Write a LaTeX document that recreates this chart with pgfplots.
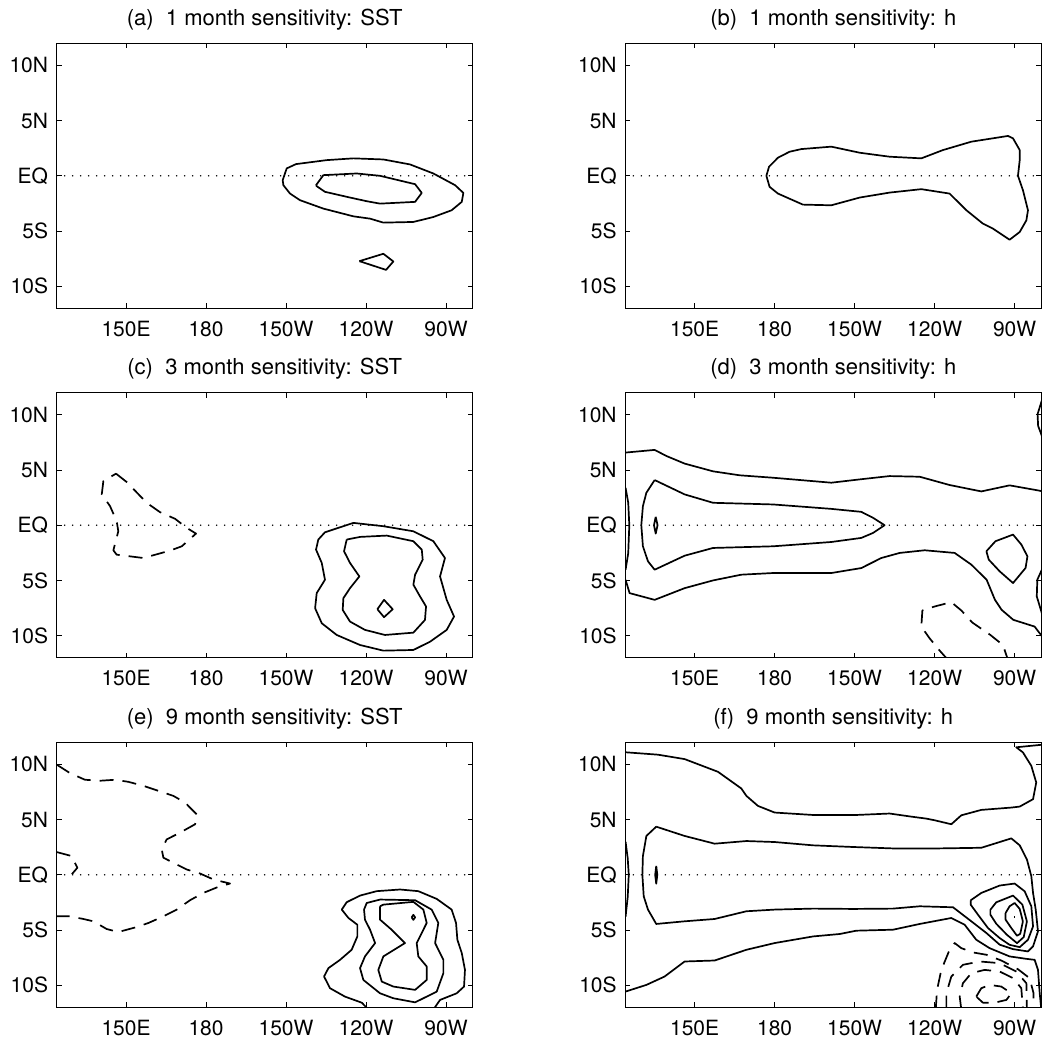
\documentclass[border=0pt]{standalone}
\usepackage{fontspec}
\setmainfont{TeX Gyre Heros}
\usepackage{pgfplots}
\pgfplotsset{compat=1.18}
\pgfplotsset{
  mapax/.style={
    scale only axis, width=208pt, height=132.5pt,
    xmin=124, xmax=280, ymin=-12, ymax=12,
    xtick={150,180,210,240,270}, xticklabels={150E,180,150W,120W,90W},
    ytick={-10,-5,0,5,10}, yticklabels={10S,5S,EQ,5N,10N},
    tick align=inside, tick pos=both, ticklabel pos=left,
    major tick length=2.5pt,
    every tick/.style={black, line width=0.5pt},
    axis line style={line width=0.7pt},
    tick label style={font=\fontsize{10.5}{12}\selectfont},
    xticklabel style={anchor=base, yshift=-13.85pt},
    yticklabel style={anchor=east, xshift=-0.8pt},
    title style={font=\fontsize{11}{13}\selectfont, anchor=base, at={(0.5,1)}, yshift=3pt},
    clip=true,
  },
  cont/.style={black, line width=0.85pt, line join=round, mark=none},
  dcont/.style={cont, dash pattern=on 7pt off 4.5pt},
  eqline/.style={black, line width=0.8pt, line cap=round, dash pattern=on 0pt off 4pt, mark=none},
}
\begin{document}
\begin{tikzpicture}
% ---------------- (a)
\begin{axis}[mapax, at={(28.35pt,-21.65pt)}, anchor=north west, title={(a)\ \ 1 month sensitivity: SST}]
\addplot[eqline] coordinates {(124,0) (280,0)};
\addplot[cont] coordinates {(208.75,-0.39) (210.25,0.67) (213.75,1.06) (225.25,1.42) (235.25,1.58) (246.5,1.48) (256.5,1.03) (265.25,0.21) (273.4,-0.85) (276.5,-1.55) (275.9,-2.36) (272.1,-3.12) (265.25,-3.73) (257.75,-4.18) (246.5,-4.24) (241.5,-3.88) (235.25,-3.67) (224,-2.97) (215.25,-2.21) (211.5,-1.61) (209,-0.85) (208.75,-0.39)};
\addplot[cont] coordinates {(221.25,-0.85) (224,0.06) (236.5,0.21) (245.25,0) (258.4,-0.76) (260.9,-1.55) (258.4,-2.36) (245.25,-2.52) (240.25,-2.30) (234,-1.97) (224.6,-1.45) (221.5,-0.94) (221.25,-0.85)};
\addplot[cont] coordinates {(237.5,-7.73) (246.5,-7.06) (250.25,-7.76) (247.5,-8.52) (237.5,-7.73)};
\end{axis}
% ---------------- (b)
\begin{axis}[mapax, at={(312.65pt,-21.65pt)}, anchor=north west, title={(b)\ \ 1 month sensitivity: h}]
\addplot[eqline] coordinates {(124,0) (280,0)};
\addplot[cont] coordinates {(176.9,0) (177.9,0.82) (181.25,1.64) (185.6,2.18) (190,2.42) (201.25,2.64) (211.9,2.09) (223.1,1.73) (235,1.58) (243.1,2.33) (253.75,3.09) (267.5,3.61) (269.4,3.39) (271.9,2.33) (271.9,1.42) (271.25,0) (273.1,-1.30) (275,-3.12) (274.4,-4.03) (271.9,-5.09) (268.1,-5.79) (261.9,-4.79) (258.1,-4.33) (251.9,-3.12) (245.6,-1.61) (235,-1.21) (223.1,-1.52) (211.9,-1.97) (201.25,-2.67) (190.6,-2.61) (181.25,-1.61) (178.1,-1.0) (176.9,0)};
\end{axis}
% ---------------- (c)
\begin{axis}[mapax, at={(28.35pt,-196.35pt)}, anchor=north west, title={(c)\ \ 3 month sensitivity: SST}]
\addplot[eqline] coordinates {(124,0) (280,0)};
\addplot[dcont] coordinates {(146.25,4.67) (150.25,3.91) (157.75,2.03) (162.75,1.18) (168.4,0.58) (172.75,-0.24) (176.25,-0.76) (170.9,-1.91) (166.5,-2.30) (156.5,-2.97) (146.5,-2.67) (145.25,-2.27) (147.1,-0.55) (146.5,0.36) (144,1.73) (140.9,2.79) (141.5,4.0) (146.25,4.67)};
\addplot[cont] coordinates {(224.6,-0.64) (235.25,0.21) (246.5,-0.09) (257.75,-0.55) (265.25,-1.45) (269.6,-2.97) (267.75,-4.64) (270.25,-6.76) (273,-8.27) (270.25,-9.48) (264,-10.55) (257.75,-11.30) (246.5,-11.36) (237.75,-10.85) (229,-9.94) (223.4,-8.88) (220.9,-7.52) (221.5,-6.15) (224.6,-4.94) (223.4,-3.42) (221.25,-2.21) (222.1,-1.30) (224.6,-0.64)};
\addplot[cont] coordinates {(232.75,-1.30) (237.75,-1.06) (247.75,-0.94) (257.75,-1.45) (260.9,-2.21) (261.25,-3.12) (258.4,-4.48) (257.75,-5.39) (260.25,-6.45) (262.5,-7.36) (262.1,-8.58) (257.75,-9.73) (247.1,-9.94) (239.6,-9.48) (234,-8.73) (231.25,-7.67) (231.5,-6.61) (234,-5.70) (237.5,-4.64) (234,-3.42) (231.75,-2.36) (232.75,-1.30)};
\addplot[cont] coordinates {(244.25,-7.61) (246.75,-6.76) (250,-7.61) (246.75,-8.33) (244.25,-7.61)};
\end{axis}
% ---------------- (d)
\begin{axis}[mapax, at={(312.65pt,-196.35pt)}, anchor=north west, title={(d)\ \ 3 month sensitivity: h}]
\addplot[eqline] coordinates {(124,0) (280,0)};
\addplot[cont] coordinates {(124.1,6.58) (135,6.82) (139.4,6.27) (146.25,5.58) (156.9,4.88) (166.9,4.52) (179.4,4.30) (201.25,3.85) (211.9,4.15) (223.1,4.45) (234.4,4.39) (245.6,3.64) (257.5,3.06) (268.1,3.61) (278.1,3.18) (281,3.05)};
\addplot[cont] coordinates {(124.1,-4.94) (125.6,-6.15) (135,-6.76) (146.25,-5.70) (156.9,-5.0) (167.5,-4.48) (179.4,-4.33) (201.25,-4.33) (212.5,-3.88) (220,-2.97) (226.9,-2.51) (236.25,-2.27) (247.5,-2.51) (253.75,-3.57) (259.5,-4.94) (262.6,-6.75) (265.1,-7.66) (269.5,-8.57) (277.5,-9.18) (281,-10.3)};
\addplot[cont] coordinates {(124.1,3.39) (125.1,2.03) (125.5,0) (125.1,-2.52) (124.1,-4.03)};
\addplot[cont] coordinates {(135,4.09) (146.25,2.79) (156.9,2.03) (179.4,1.88) (201.25,1.48) (212.5,1.21) (216.9,0.67) (221.25,0) (216.9,-0.70) (212.5,-1.15) (201.25,-1.52) (179.4,-1.91) (156.9,-2.06) (146.25,-2.76) (135,-4.03) (132.5,-3.27) (130.6,-1.91) (130,0) (130.6,1.73) (131.9,2.94) (135,4.09)};
\addplot[cont] coordinates {(135.4,0.76) (136.1,0) (135.4,-0.76) (134.75,0) (135.4,0.76)};
\addplot[cont] coordinates {(259.4,-2.36) (262.8,-1.45) (269.4,-0.85) (272.5,-1.75) (274.8,-2.82) (274.1,-3.87) (269.4,-5.24) (264.4,-4.18) (260.3,-3.12) (259.4,-2.36)};
\addplot[cont] coordinates {(280.2,11.3) (278.6,10.06) (278.8,9) (280.2,8.09)};
\addplot[cont] coordinates {(280.2,-4.03) (278.5,-4.94) (278.3,-6.45) (280.2,-7.97)};
\addplot[dcont] coordinates {(245,-12.2) (241.9,-11.36) (238.1,-10.24) (235,-9.18) (235.4,-7.72) (240,-7.36) (246.25,-6.97) (250,-7.72) (254.1,-8.81) (260.9,-9.94) (265.6,-10.85) (267.5,-12.2)};
\end{axis}
% ---------------- (e)
\begin{axis}[mapax, at={(28.35pt,-371.15pt)}, anchor=north west, title={(e)\ \ 9 month sensitivity: SST}]
\addplot[eqline] coordinates {(124,0) (280,0)};
\addplot[dcont] coordinates {(124.25,9.94) (129,9.21) (134.6,8.61) (140.25,8.52) (145.9,8.61) (150.9,8.42) (156.5,8.06) (162.1,7.61) (167.75,7.15) (172.1,6.55) (176.5,5.48) (175.9,4.58) (170.25,3.82) (165.25,3.21) (163.4,2.30) (164,1.55) (167.75,1.09) (172.75,0.48) (177.75,0.12) (182.75,-0.42) (189,-0.79) (184.6,-1.09) (179,-1.64) (174,-2.30) (169,-3.15) (164,-3.76) (158.4,-4.36) (154,-4.73) (147.1,-5.18) (142.75,-4.91) (137.75,-4.21) (134,-4.0) (129,-3.76) (124,-3.76)};
\addplot[dcont] coordinates {(124,2.06) (129.6,1.70) (131.75,0.64) (129.6,0.03) (127.5,-0.12)};
\addplot[cont] coordinates {(240.9,-12.2) (238.4,-11.58) (232.1,-11.03) (226.5,-10.27) (224.25,-9.21) (225.9,-8.45) (230.25,-7.70) (234.6,-6.79) (236.75,-5.58) (236.75,-4.52) (233.4,-3.91) (230.9,-3.15) (232.75,-2.48) (237.75,-1.88) (244,-1.48) (252.75,-1.33) (259.6,-1.48) (266.5,-2.18) (272.1,-3.15) (273.75,-4.36) (274.25,-5.88) (275.9,-7.09) (277.1,-8.61) (276.75,-10.12) (274,-10.73) (267.75,-11.33) (265.25,-12.2)};
\addplot[cont] coordinates {(239.25,-3.15) (240.25,-2.55) (245.25,-2.24) (258.4,-2.30) (264.6,-3.15) (267.1,-4.36) (265.9,-6.18) (269,-7.70) (269,-8.91) (266.5,-10.58) (258.4,-11.55) (250.25,-11.18) (245.25,-10.73) (239,-9.52) (237.75,-8.45) (239.6,-7.39) (243.4,-6.18) (241.5,-4.97) (239.6,-4.06) (239.25,-3.15)};
\addplot[cont] coordinates {(245.25,-2.85) (246.5,-2.70) (257.75,-2.45) (261.5,-3.15) (262.75,-4.36) (259,-6.18) (259.6,-7.39) (262.75,-8.30) (262.75,-9.52) (258.4,-10.42) (250.25,-10.12) (245.9,-9.67) (244.6,-8.61) (246.5,-7.39) (254.6,-6.18) (249.6,-4.97) (245.25,-4.06) (245.25,-2.85)};
\addplot[cont] coordinates {(257.1,-3.85) (257.75,-3.62) (258.4,-3.85) (257.75,-4.08) (257.1,-3.85)};
\end{axis}
% ---------------- (f)
\begin{axis}[mapax, at={(312.65pt,-371.15pt)}, anchor=north west, title={(f)\ \ 9 month sensitivity: h}]
\addplot[eqline] coordinates {(124,0) (280,0)};
\addplot[cont] coordinates {(124,11.1) (136.25,10.88) (146.25,10.48) (158.75,9.33) (167.5,7.82) (169.4,7.15) (173.75,6.24) (180,5.64) (194.4,5.42) (210.6,5.42) (223.1,5.55) (231.25,5.27) (236.9,5.09) (240,4.94) (246.25,4.58) (250,5.39) (257.5,5.88) (268.75,6.09) (271.9,6.18) (276.9,6.85) (278.1,8.36) (276.25,9.87) (273.1,11.09) (270.6,11.55) (281,11.8)};
\addplot[cont] coordinates {(135.6,4.36) (146.25,3.52) (157.5,2.82) (169.4,3.06) (180,2.97) (194.4,2.67) (209.4,2.52) (224.4,2.39) (241.25,2.39) (257.5,2.45) (268.75,3.30) (271.9,2.67) (274.6,1.39) (276.25,-0.12) (276.9,-1.64) (277.9,-3.15) (278.75,-5.12) (276.9,-6.48) (275,-6.94) (269.4,-6.73) (264.4,-6.33) (259.4,-5.27) (253.75,-4.21) (246.9,-2.94) (234.4,-2.85) (224.4,-3.06) (209.4,-3.09) (194.4,-3.06) (180,-3.15) (169.4,-3.30) (157.5,-4.0) (146.25,-4.21) (135.6,-4.45) (132.5,-3.15) (130.9,-1.94) (130.4,0) (130.6,1.70) (131.9,3.52) (135.6,4.36)};
\addplot[cont] coordinates {(124,-10.58) (131.9,-9.97) (138.75,-9.21) (146.25,-7.85) (157.5,-7.76) (169.4,-6.79) (180,-6.18) (194.4,-5.58) (204.4,-5.36) (210.6,-5.06) (224.4,-4.97) (234.4,-4.45) (246.25,-3.91) (251.25,-4.52) (255.6,-5.88) (260.6,-6.64) (268.1,-7.39) (274.4,-7.61) (277.5,-7.70) (278.75,-8.61) (279.4,-10.73) (280,-12.2)};
\addplot[cont] coordinates {(124.1,3.0) (124.9,1.5) (125.3,0) (124.9,-2.0) (124.1,-3.8)};
\addplot[cont, fill=black] coordinates {(135.6,0.8) (136.0,0) (135.6,-0.8) (135.2,0) (135.6,0.8)};
\addplot[cont] coordinates {(253.5,-2.31) (257.5,-1.64) (264.4,-0.97) (270,-0.79) (273.75,-1.49) (276.25,-2.85) (276.9,-4.67) (275,-5.88) (271.9,-6.55) (268.1,-6.34) (264.4,-5.73) (260,-4.82) (256.25,-3.61) (253.5,-2.70) (253.5,-2.31)};
\addplot[cont] coordinates {(260.9,-3.16) (263.1,-2.49) (269.4,-1.88) (272.9,-2.70) (274.6,-4.22) (273.4,-5.64) (270.9,-6.19) (267.1,-5.43) (263.1,-4.43) (260.9,-3.61) (260.9,-3.16)};
\addplot[cont] coordinates {(266.6,-3.46) (268.1,-2.85) (270,-2.55) (271.9,-3.09) (273.1,-4.22) (272.1,-5.34) (270.9,-5.52) (268.75,-4.82) (266.6,-4.06) (266.6,-3.46)};
\addplot[cont] coordinates {(269.8,-3.85) (270.2,-3.85)};
\addplot[dcont] coordinates {(255.6,-11.03) (257.5,-10.27) (260.6,-9.97) (265,-10.12) (268.75,-10.73) (266.9,-11.33) (262.5,-11.58) (258.1,-11.58) (255.6,-11.03)};
\addplot[dcont] coordinates {(250,-12.2) (249.4,-11.03) (250.6,-9.82) (253.75,-8.91) (258.75,-8.61) (264.4,-8.76) (269.4,-9.36) (272.5,-10.27) (273.1,-12.2)};
\addplot[dcont] coordinates {(244.4,-12.2) (244.4,-10.73) (246.25,-9.21) (250.6,-8.15) (256.9,-7.85) (264.4,-8.0) (270.6,-8.76) (274.4,-9.82) (274.6,-12.2)};
\addplot[dcont] coordinates {(240.4,-12.2) (240.9,-10.42) (242.5,-8.61) (245.6,-6.79) (247.5,-6.18) (250,-6.64) (254.4,-7.03) (259.4,-7.24) (265,-7.76) (271.25,-8.55) (275.6,-9.36) (277.1,-10.73) (277.1,-12.2)};
\end{axis}
\pgfresetboundingbox
\useasboundingbox (0,0) rectangle (523.5pt,-519.5pt);
\end{tikzpicture}
\end{document}
